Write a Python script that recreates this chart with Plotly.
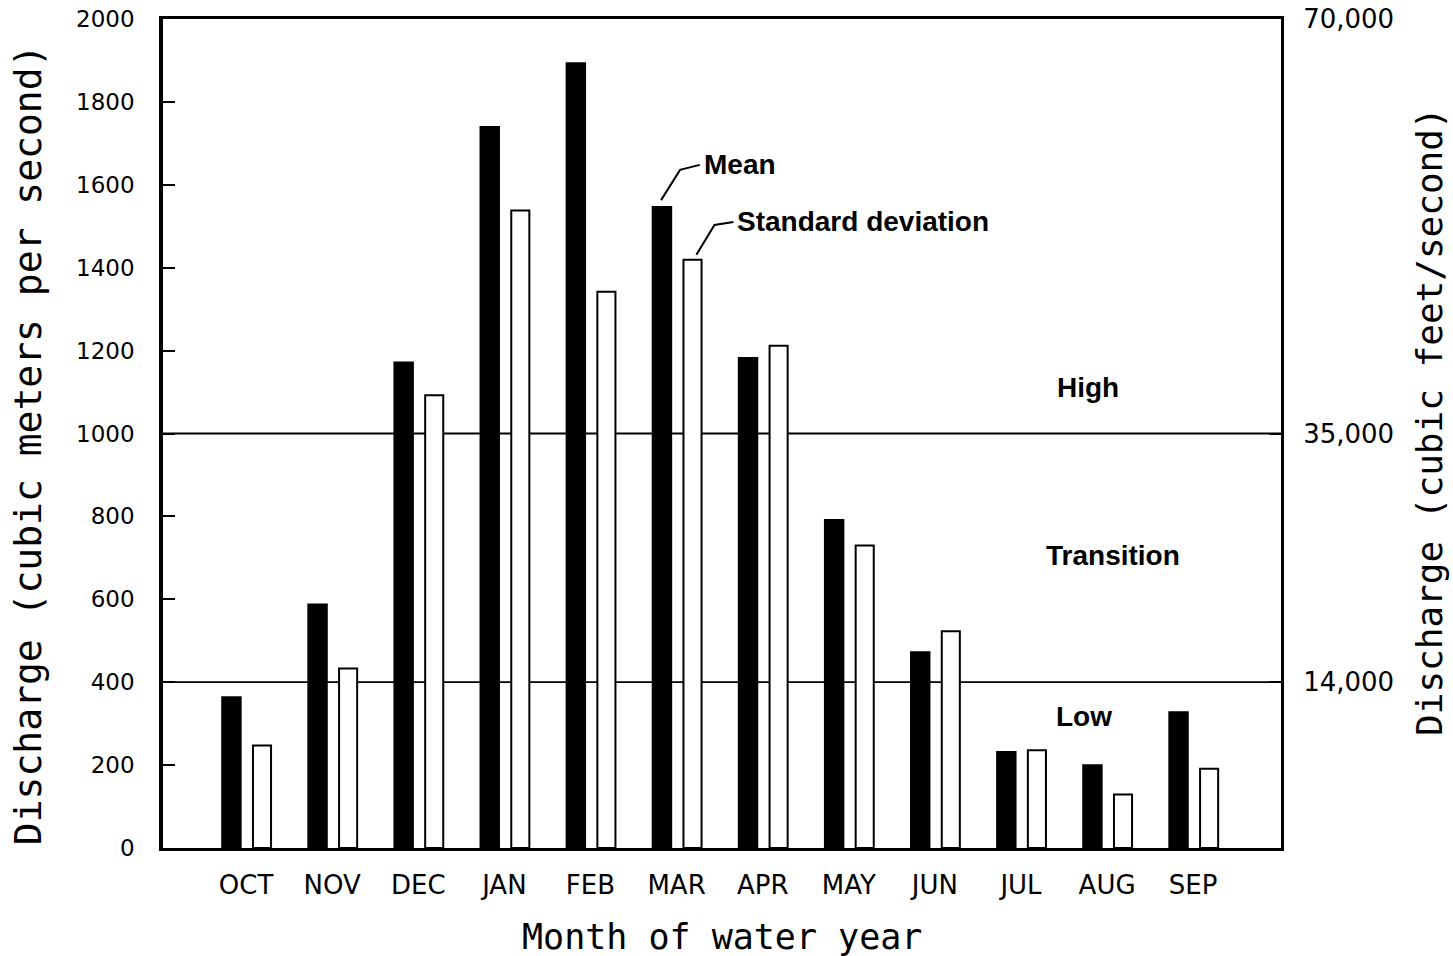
import plotly.graph_objects as go

months = ["OCT", "NOV", "DEC", "JAN", "FEB", "MAR", "APR", "MAY", "JUN", "JUL", "AUG", "SEP"]
mean_cms = [364, 588, 1172, 1740, 1894, 1547, 1183, 792, 473, 232, 200, 328]
std_cms = [247, 433, 1092, 1538, 1342, 1419, 1212, 730, 523, 236, 129, 191]
left_ticks = [0, 200, 400, 600, 800, 1000, 1200, 1400, 1600, 1800, 2000]
right_tickvals = [400, 1000, 2000]
right_ticktext = ["14,000", "35,000", "70,000"]
class_bounds = [400, 1000]
class_labels = ["Low", "Transition", "High"]
class_label_y = [318, 706, 1111]
class_label_x = [9.73, 10.07, 9.78]

x_idx = list(range(len(months)))
TICKFONT = dict(family="DejaVu Sans", size=23, color="black")
MONTHFONT = dict(family="DejaVu Sans", size=26, color="black")
RIGHTFONT = dict(family="DejaVu Sans", size=26, color="black")
BOLD = dict(family="Liberation Sans", size=28, color="black")

fig = go.Figure()
fig.add_trace(go.Bar(x=x_idx, y=mean_cms, width=0.22, offset=-0.28, name="Mean",
                     marker=dict(color="black", line=dict(color="black", width=1.5))))
fig.add_trace(go.Bar(x=x_idx, y=std_cms, width=0.21, offset=0.08, name="Standard deviation",
                     marker=dict(color="white", line=dict(color="black", width=2))))
# invisible trace to activate right axis
fig.add_trace(go.Scatter(x=[x_idx[0]], y=[0], yaxis="y2", mode="markers",
                         marker=dict(opacity=0), showlegend=False, hoverinfo="skip"))

for b in class_bounds:
    fig.add_shape(type="line", xref="paper", x0=0, x1=1, yref="y", y0=b, y1=b,
                  line=dict(color="black", width=1.8), layer="below")

# leader lines
fig.add_shape(type="path", xref="x", yref="y",
              path="M 4.82 1563 L 5.04 1636 L 5.27 1648", line=dict(color="black", width=2))
fig.add_shape(type="path", xref="x", yref="y",
              path="M 5.23 1431 L 5.44 1503 L 5.66 1510", line=dict(color="black", width=2))

fig.add_annotation(x=5.29, y=1648, text="<b>Mean</b>", showarrow=False, xanchor="left",
                   yanchor="middle", font=BOLD)
fig.add_annotation(x=5.68, y=1512, text="<b>Standard deviation</b>", showarrow=False,
                   xanchor="left", yanchor="middle", font=BOLD)
for lab, yy, xx in zip(class_labels, class_label_y, class_label_x):
    fig.add_annotation(x=xx, y=yy, text=f"<b>{lab}</b>", showarrow=False,
                       xanchor="center", yanchor="middle", font=BOLD)

# axis titles
fig.add_annotation(xref="paper", yref="paper", x=0.5, y=-0.107, yanchor="middle",
                   text="Month of water year", showarrow=False,
                   font=dict(family="DejaVu Sans Mono", size=35, color="black"))
fig.add_annotation(xref="paper", x=-0.1208, xanchor="center", yref="paper", y=0.487,
                   text="Discharge (cubic meters per second)", textangle=-90,
                   showarrow=False, font=dict(family="DejaVu Sans Mono", size=38, color="black"))
fig.add_annotation(xref="paper", x=1.1333, xanchor="center", yref="paper", y=0.514,
                   text="Discharge (cubic feet/second)", textangle=-90,
                   showarrow=False, font=dict(family="DejaVu Sans Mono", size=36, color="black"))

fig.update_layout(
    width=1453, height=956,
    margin=dict(l=163, r=172, t=19, b=108, autoexpand=False),
    paper_bgcolor="white", plot_bgcolor="white",
    showlegend=False, barmode="overlay",
    xaxis=dict(range=[-0.965, 12.02], tickvals=x_idx, ticktext=months,
               showline=True, linecolor="black", linewidth=3, mirror=True,
               ticks="", showgrid=False, zeroline=False, tickfont=MONTHFONT,
               ticklabelstandoff=12, automargin=False),
    yaxis=dict(range=[0, 2000], tickvals=left_ticks, showline=True, linecolor="black",
               linewidth=3.5, ticks="inside", ticklen=12, tickwidth=2, tickcolor="black",
               showgrid=False, zeroline=False, tickfont=TICKFONT, ticklabelstandoff=20,
               automargin=False),
    yaxis2=dict(range=[0, 2000], overlaying="y", side="right", tickvals=right_tickvals,
                ticktext=right_ticktext, showline=True, linecolor="black", linewidth=3,
                ticks="inside", ticklen=12, tickwidth=2, tickcolor="black",
                showgrid=False, zeroline=False, tickfont=RIGHTFONT, ticklabelstandoff=14,
                automargin=False),
)

fig.write_html("out.html", config={"displayModeBar": False},
               post_script="document.body.style.margin='0';document.body.style.overflow='hidden';")
